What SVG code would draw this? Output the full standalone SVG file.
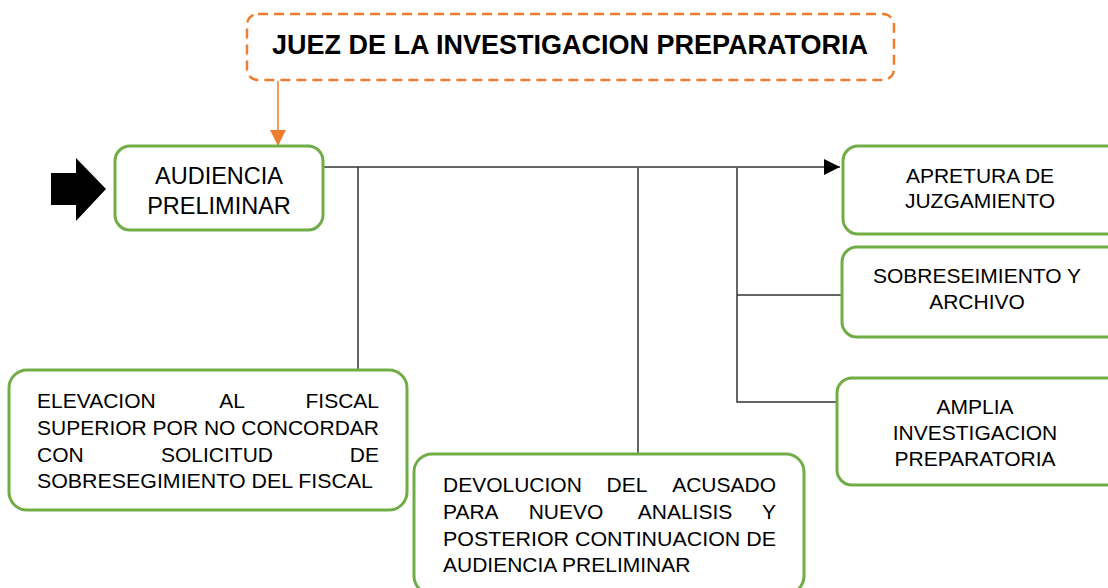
<svg xmlns="http://www.w3.org/2000/svg" width="1108" height="588" viewBox="0 0 1108 588">
<defs>
<style>
.box{fill:#ffffff;stroke:#70AD47;stroke-width:3}
.t{font-family:"Liberation Sans",Arial,sans-serif;font-size:21px;fill:#000000}
.c{text-anchor:middle}
.e{text-anchor:end}
.ln{fill:none;stroke:#333333;stroke-width:1.5}
</style>
<marker id="ah" viewBox="0 0 16 16" refX="16" refY="8" markerWidth="16" markerHeight="16" markerUnits="userSpaceOnUse" orient="auto">
<path d="M0,0 L16,8 L0,16 Z" fill="#000000"/>
</marker>
<marker id="ao" viewBox="0 0 16 16" refX="16" refY="8" markerWidth="16" markerHeight="16" markerUnits="userSpaceOnUse" orient="auto">
<path d="M0,0 L16,8 L0,16 Z" fill="#ED7D31"/>
</marker>
</defs>
<rect width="1108" height="588" fill="#ffffff"/>

<g id="connectors">
<line x1="278" y1="81" x2="278" y2="146" stroke="#ED7D31" stroke-width="1.5" marker-end="url(#ao)"/>
<line class="ln" x1="323" y1="167" x2="840" y2="167" marker-end="url(#ah)"/>
<line class="ln" x1="358" y1="167" x2="358" y2="370"/>
<line class="ln" x1="638" y1="168" x2="638" y2="454"/>
<polyline class="ln" points="737,168 737,402 837,402"/>
<line class="ln" x1="737" y1="295" x2="842" y2="295"/>
</g>

<g id="start-arrow">
<path d="M51,173 L76,173 L76,158 L106,189 L76,221 L76,205 L51,205 Z" fill="#000000"/>
</g>

<g id="juez">
<rect x="247" y="14" width="647" height="66" rx="11" fill="#ffffff" stroke="#ED7D31" stroke-width="2.5" stroke-dasharray="10,6"/>
<text x="570" y="54" class="c" style="font-family:'Liberation Sans',Arial,sans-serif;font-size:27px;font-weight:bold;fill:#000000">JUEZ DE LA INVESTIGACION PREPARATORIA</text>
</g>

<g id="audiencia">
<rect class="box" x="115" y="146" width="208" height="84" rx="15"/>
<text class="t c" x="219" y="184" style="font-size:23.5px">AUDIENCIA</text>
<text class="t c" x="219" y="214" style="font-size:23.5px">PRELIMINAR</text>
</g>

<g id="apretura">
<rect class="box" x="843" y="146" width="280" height="88" rx="15"/>
<text class="t c" x="980" y="183">APRETURA DE</text>
<text class="t c" x="980" y="208">JUZGAMIENTO</text>
</g>

<g id="sobreseimiento">
<rect class="box" x="842" y="247" width="280" height="90" rx="15"/>
<text class="t c" x="977" y="283">SOBRESEIMIENTO Y</text>
<text class="t c" x="977" y="309">ARCHIVO</text>
</g>

<g id="amplia">
<rect class="box" x="837" y="378" width="285" height="107" rx="15"/>
<text class="t c" x="975" y="414">AMPLIA</text>
<text class="t c" x="975" y="440">INVESTIGACION</text>
<text class="t c" x="975" y="466">PREPARATORIA</text>
</g>

<g id="elevacion">
<rect class="box" x="9" y="370" width="398" height="140" rx="18"/>
<text class="t" x="37" y="408">ELEVACION</text>
<text class="t c" x="232" y="408">AL</text>
<text class="t e" x="379" y="408">FISCAL</text>
<text class="t" x="37" y="435" textLength="342" lengthAdjust="spacingAndGlyphs">SUPERIOR POR NO CONCORDAR</text>
<text class="t" x="37" y="462">CON</text>
<text class="t c" x="217" y="462">SOLICITUD</text>
<text class="t e" x="379" y="462">DE</text>
<text class="t" x="37" y="488" textLength="336" lengthAdjust="spacingAndGlyphs">SOBRESEGIMIENTO DEL FISCAL</text>
</g>

<g id="devolucion">
<rect class="box" x="414" y="454" width="390" height="140" rx="18"/>
<text class="t" x="443" y="492">DEVOLUCION</text>
<text class="t c" x="627" y="492">DEL</text>
<text class="t e" x="776" y="492">ACUSADO</text>
<text class="t" x="443" y="519">PARA</text>
<text class="t c" x="566" y="519">NUEVO</text>
<text class="t c" x="685" y="519">ANALISIS</text>
<text class="t e" x="776" y="519">Y</text>
<text class="t" x="443" y="546" textLength="333" lengthAdjust="spacingAndGlyphs">POSTERIOR CONTINUACION DE</text>
<text class="t" x="443" y="572">AUDIENCIA PRELIMINAR</text>
</g>
</svg>
